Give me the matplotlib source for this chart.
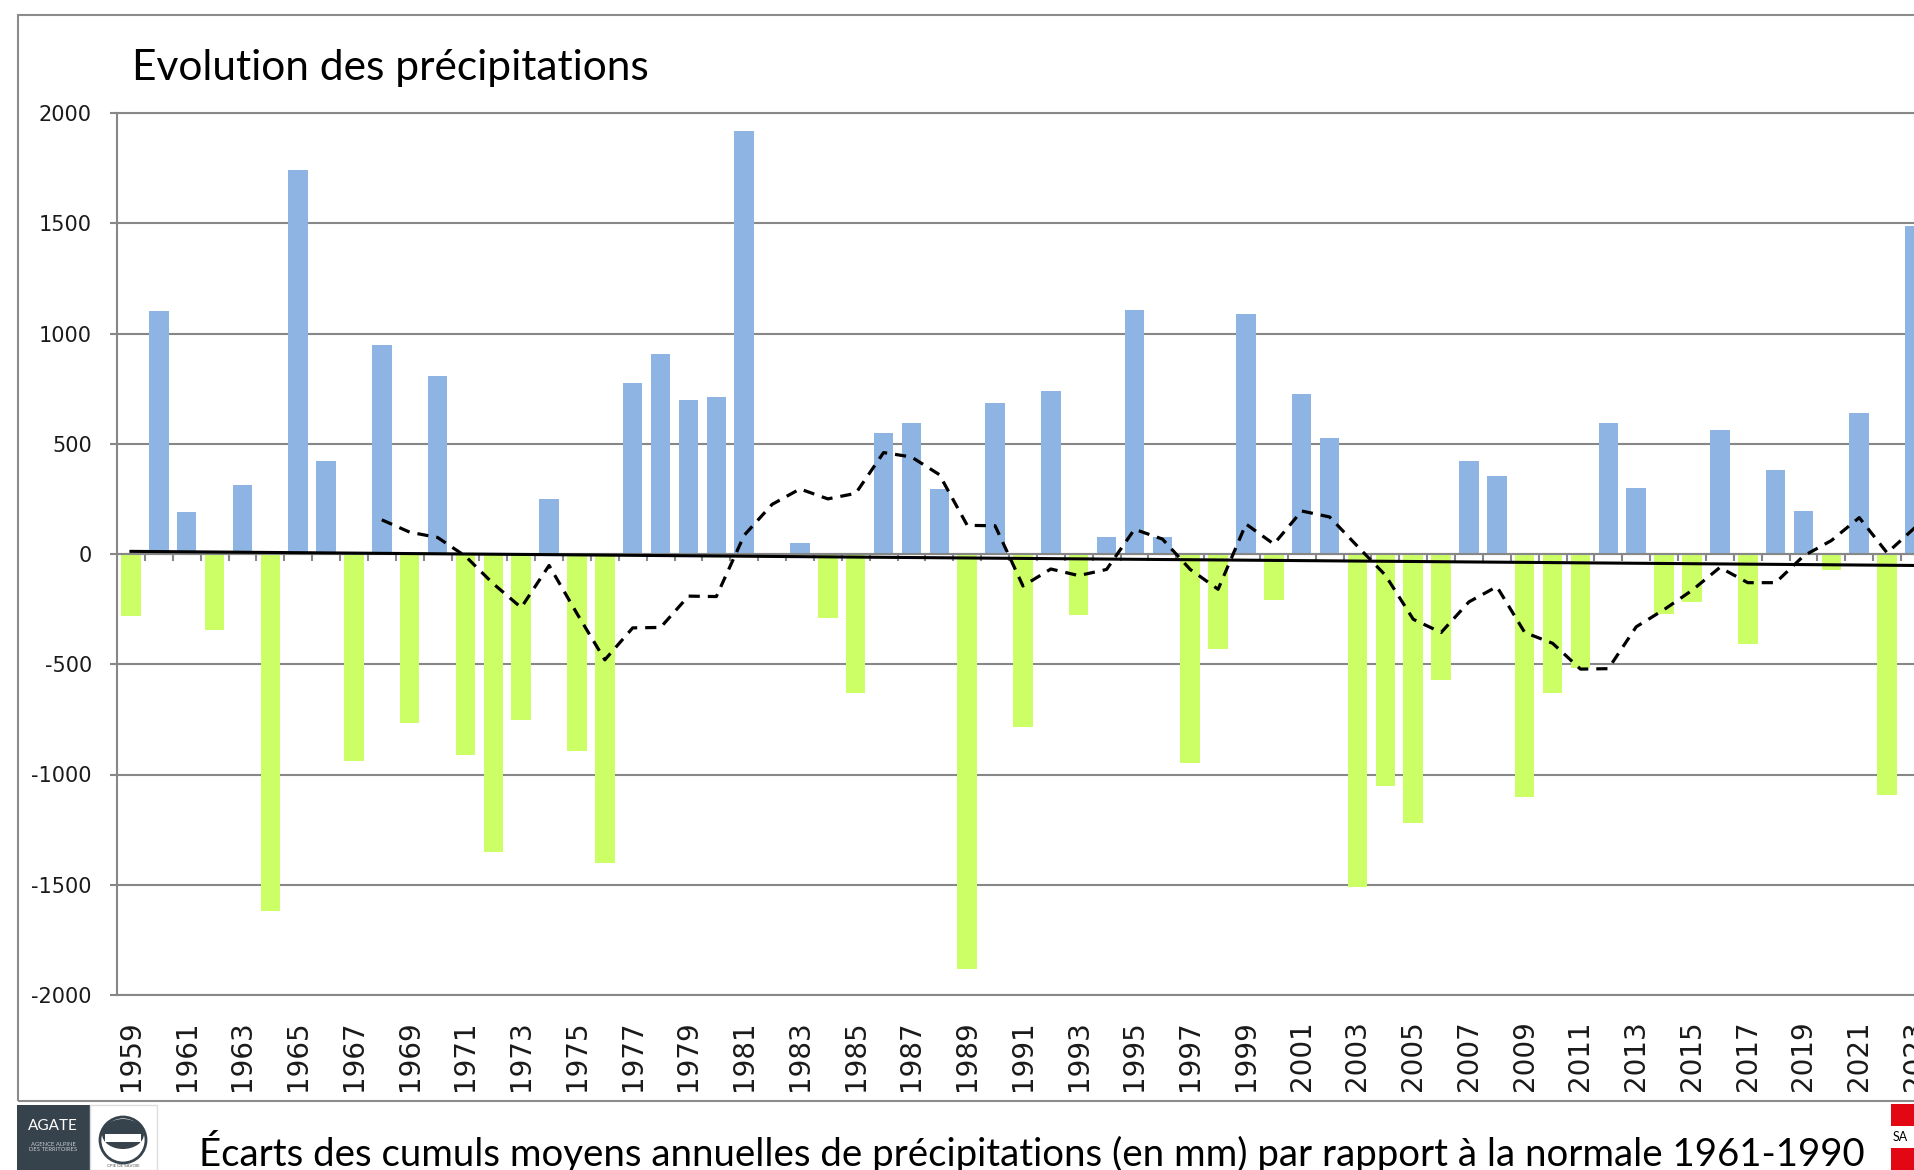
import matplotlib
matplotlib.use("Agg")
import matplotlib.pyplot as plt
from matplotlib.patches import Rectangle, Ellipse

W, H, DPI = 1915, 1170, 100

years = list(range(1959, 2024))
ecarts = [
    -280, 1100, 190, -345, 315, -1620, 1740, 420, -940, 950,
    -765, 805, -913, -1350, -753, 250, -892, -1400, 775, 905,
    700, 712, 1920, -20, 50, -290, -630, 550, 595, 295,
    -1880, 686, -786, 738, -276, 79, 1106, 79, -948, -431,
    1089, -210, 726, 526, -1510, -1050, -1221, -572, 424, 356,
    -1101, -630, -515, 595, 298, -271, -219, 561, -409, 379,
    195, -71, 639, -1094, 1486,
]

# moyenne mobile (10 ans)
mm_years = list(range(1968, 2024))
moyenne_mobile = [
    155, 99, 75, -10, -135, -243, -52, -270, -480, -335,
    -333, -191, -193, 85, 225, 295, 250, 275, 460, 440,
    360, 130, 128, -145, -68, -98, -70, 112, 68, -70,
    -160, 136, 45, 195, 168, 35, -96, -296, -356, -217,
    -148, -356, -405, -522, -520, -330, -252, -165, -61, -130,
    -130, -9, 61, 165, 5, 120,
]

trend_years = [1959, 2023]
trend_values = [12, -52]

y_ticks = [2000, 1500, 1000, 500, 0, -500, -1000, -1500, -2000]
x_tick_years = list(range(1959, 2024, 2))

TITLE = "Evolution des précipitations"
CAPTION = ("Écarts des cumuls moyens annuelles de précipitations (en mm) "
           "par rapport à la normale 1961-1990")

BLUE = "#8DB4E2"
GREEN = "#CCFF66"
GRID = "#878787"
DARK = "#36424C"
RED = "#E30613"

plt.rcParams["axes.unicode_minus"] = False


def px(x, y):
    # pixel coords (from top-left) -> figure fraction
    return x / W, 1 - y / H


fig = plt.figure(figsize=(W / DPI, H / DPI), dpi=DPI)
fig.patch.set_facecolor("white")

ax_l, ax_t, ax_b = 117, 113, 995
ax = fig.add_axes([ax_l / W, 1 - ax_b / H, 1 - ax_l / W, (ax_b - ax_t) / H])

colors = [BLUE if v >= 0 else GREEN for v in ecarts]
ax.bar(years, ecarts, width=0.7, color=colors, edgecolor="none", zorder=2)

# category axis at 0 with small ticks between years
ax.axhline(0, color=GRID, lw=1.5, zorder=2.5)
ax.vlines([y - 0.5 for y in years], -32, 0, color=GRID, lw=1.5, zorder=2.5)

ax.plot(trend_years, trend_values, color="black", lw=2.2, zorder=3)
ax.plot(mm_years, moyenne_mobile, color="black", lw=2.3,
        linestyle=(0, (3.5, 2.5)), zorder=4)

ax.set_xlim(1958.5, 2023.0)
ax.set_ylim(-2000, 2000)
ax.set_yticks(y_ticks)
ax.set_yticklabels([str(v) for v in y_ticks])
ax.set_xticks(x_tick_years)
ax.set_xticklabels([str(y) for y in x_tick_years], rotation=90)

ax.grid(axis="y", color=GRID, lw=1.5, zorder=0)
ax.set_axisbelow(True)
for side in ["left", "top", "bottom"]:
    ax.spines[side].set_color(GRID)
    ax.spines[side].set_linewidth(1.5)
ax.spines["right"].set_visible(False)

ax.tick_params(axis="y", direction="out", length=5, width=1.5, color=GRID,
               labelsize=15, labelcolor="#1A1A1A", pad=13)
ax.tick_params(axis="x", length=0, labelsize=20, labelcolor="#1A1A1A", pad=18)

# outer frame of the slide
fx, fy = px(18, 1101)
fig.add_artist(Rectangle((fx, fy), 1.1, (1101 - 15) / H, transform=fig.transFigure,
                         fill=False, ec="#8C8C8C", lw=1.5))

# title and caption
tx, ty = px(132, 80)
title = fig.text(tx, ty, TITLE, family="Lato", fontsize=28, va="baseline", ha="left")
cx, cy = px(199, 1166)
caption = fig.text(cx, cy, CAPTION, family="Lato", fontsize=24, va="baseline", ha="left")

fig.canvas.draw()
renderer = fig.canvas.get_renderer()
for txt, target in [(title, 519), (caption, 1663)]:
    w = txt.get_window_extent(renderer).width
    txt.set_fontsize(txt.get_fontsize() * target / w)

# logos at bottom left
bx, by = px(17, 1170)
fig.add_artist(Rectangle((bx, by), 73 / W, 65 / H, transform=fig.transFigure,
                         color=DARK, lw=0))
lx, ly = px(53, 1126)
fig.text(lx, ly, "AGATE", color="white", fontsize=11, family="Lato",
         ha="center", va="center")
lx, ly = px(53, 1147)
fig.text(lx, ly, "AGENCE ALPINE\nDES TERRITOIRES", color="#C8CDD2", fontsize=4.2,
         family="Lato", ha="center", va="center", linespacing=1.0)
wx, wy = px(90, 1170)
fig.add_artist(Rectangle((wx, wy), 67 / W, 65 / H, transform=fig.transFigure,
                         fill=False, ec="#DDDDDD", lw=1))
ex, ey = px(123, 1140)
fig.add_artist(Ellipse((ex, ey), 46 / W, 46 / H, transform=fig.transFigure,
                       fill=False, ec=DARK, lw=2))
fig.add_artist(Ellipse((ex, ey + 6 / H), 42 / W, 30 / H, transform=fig.transFigure,
                       color=DARK, lw=0))
fig.add_artist(Rectangle((ex - 18 / W, ey - 2 / H), 36 / W, 8 / H,
                         transform=fig.transFigure, color="white", lw=0))
tx2, ty2 = px(123, 1166)
fig.text(tx2, ty2, "CPIE DE SAVOIE", color="#555555", fontsize=3.2, family="Lato",
         ha="center", va="center")

# logo at bottom right (cut by the edge)
for top in [1104, 1148]:
    rx, ry = px(1891, top + 22)
    fig.add_artist(Rectangle((rx, ry), 30 / W, 22 / H, transform=fig.transFigure,
                             color=RED, lw=0))
sx, sy = px(1893, 1137)
fig.text(sx, sy, "SA", fontsize=9, family="Lato", ha="left", va="center")

fig.savefig("out.png", dpi=DPI, facecolor="white")
